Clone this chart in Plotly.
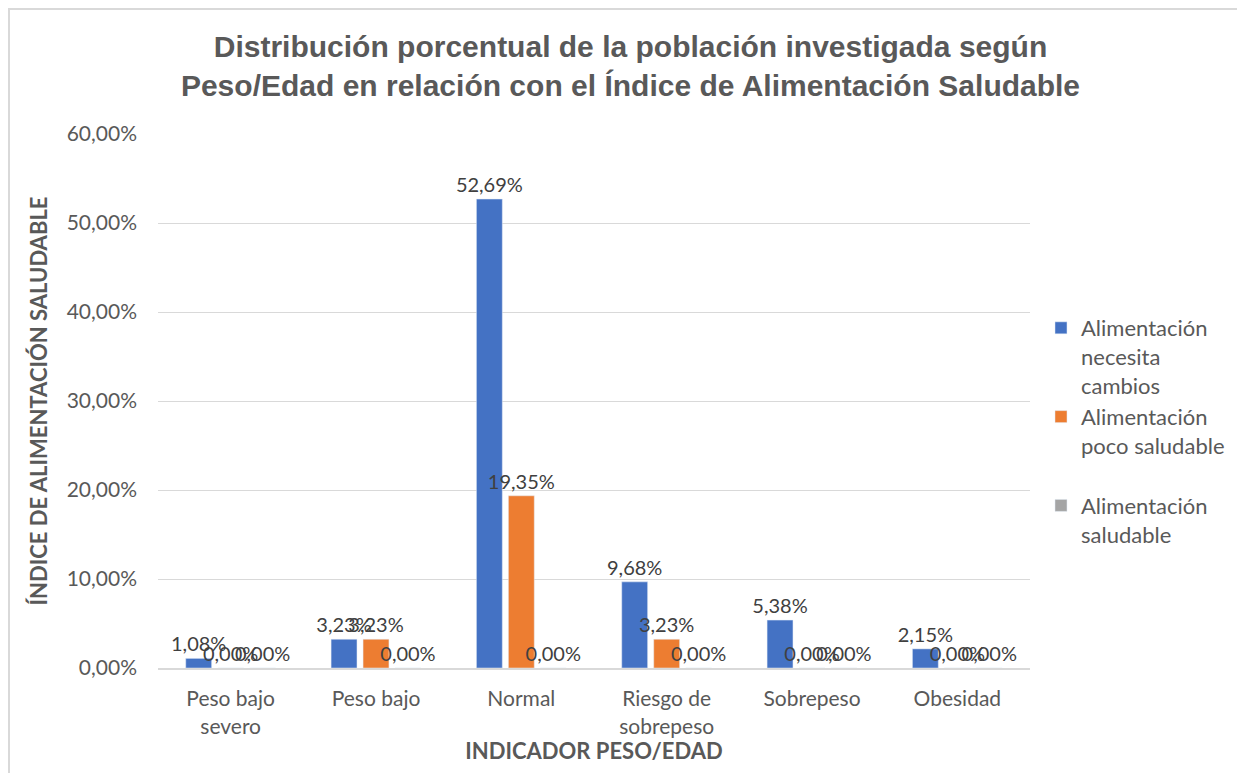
import plotly.graph_objects as go

categories = ["Peso bajo<br>severo", "Peso bajo", "Normal", "Riesgo de<br>sobrepeso", "Sobrepeso", "Obesidad"]
necesita_cambios = [0.0108, 0.0323, 0.5269, 0.0968, 0.0538, 0.0215]
poco_saludable = [0.0, 0.0323, 0.1935, 0.0323, 0.0, 0.0]
saludable = [0.0, 0.0, 0.0, 0.0, 0.0, 0.0]

series = [
    ("Alimentación<br>necesita<br>cambios", necesita_cambios, "#4472C4"),
    ("Alimentación<br>poco saludable<br> ", poco_saludable, "#ED7D31"),
    ("Alimentación<br>saludable", saludable, "#A5A5A5"),
]

font_main = "Lato, Calibri, sans-serif"
grey_text = "#595959"

fig = go.Figure()
for name, vals, color in series:
    fig.add_trace(
        go.Bar(
            x=categories,
            y=vals,
            name=name,
            marker=dict(color=color),
            texttemplate="%{y:.2%}",
            textposition="outside",
            constraintext="none",
            cliponaxis=False,
            textfont=dict(family=font_main, size=20, color="#404040"),
        )
    )

# plot area in figure pixels: left 150, right 1022, top 126, bottom 660
fig.update_layout(
    width=1245,
    height=773,
    separators=",.",
    barmode="group",
    bargap=0.34,
    bargroupgap=0.19,
    margin=dict(l=150, r=223, t=126, b=113),
    paper_bgcolor="white",
    plot_bgcolor="white",
    title=dict(
        text="<b>Distribución porcentual de la población investigada según<br>Peso/Edad en relación con el Índice de Alimentación Saludable</b>",
        x=0.5,
        xanchor="center",
        y=0.937,
        yanchor="top",
        font=dict(family="Liberation Sans, Arial, sans-serif", size=30, color=grey_text),
    ),
    legend=dict(
        x=1.0126,
        y=0.676,
        xanchor="left",
        yanchor="top",
        valign="top",
        font=dict(family=font_main, size=22, color=grey_text),
        itemwidth=30,
    ),
    xaxis=dict(
        title=dict(text="<b>INDICADOR PESO/EDAD</b>", font=dict(family=font_main, size=22, color=grey_text), standoff=4),
        tickfont=dict(family=font_main, size=21, color=grey_text),
        ticklabelstandoff=11,
        showline=True,
        linecolor="#d9d9d9",
        linewidth=2,
        ticks="",
    ),
    yaxis=dict(
        title=dict(text="<b>ÍNDICE DE ALIMENTACIÓN SALUDABLE</b>", font=dict(family=font_main, size=22, color=grey_text), standoff=12),
        tickfont=dict(family=font_main, size=21, color=grey_text),
        ticklabelstandoff=20,
        range=[0, 0.6],
        dtick=0.1,
        tickformat=".2%",
        gridcolor="#d9d9d9",
        zeroline=False,
    ),
    shapes=[
        dict(
            type="rect",
            xref="paper",
            yref="paper",
            x0=-149 / 872,
            x1=1 + 212 / 872,
            y0=-120 / 534,
            y1=1 + 125 / 534,
            line=dict(color="#d9d9d9", width=2),
        )
    ],
)

fig.write_html("out.html")
